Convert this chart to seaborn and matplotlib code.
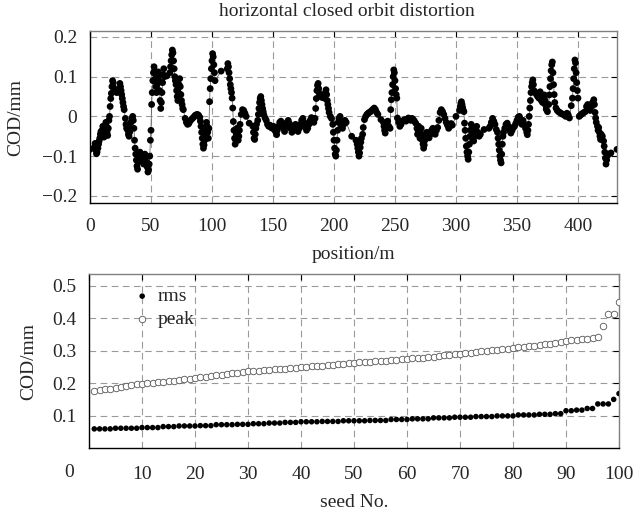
import matplotlib
matplotlib.use("Agg")
import matplotlib.pyplot as plt
import matplotlib.transforms as mtransforms
from matplotlib.ticker import FuncFormatter, FixedLocator
import pandas as pd
import seaborn as sns

# ---------------- data: horizontal closed orbit (position in m, COD in mm)
position = [
    0.0, 3.5, 4.2, 4.8, 5.3, 5.8, 6.5, 7.0, 7.5, 8.0,
    8.5, 9.0, 9.5, 10.0, 10.5, 11.0, 11.5, 12.0, 12.5, 13.0,
    13.5, 14.0, 14.5, 15.0, 15.5, 16.0, 16.5, 17.0, 17.5, 18.0,
    18.5, 19.0, 19.5, 20.0, 21.0, 22.0, 23.0, 24.0, 24.5, 25.0,
    25.5, 26.0, 26.5, 27.0, 27.5, 28.0, 29.0, 29.5, 30.0, 30.5,
    31.0, 31.5, 32.0, 32.5, 33.0, 33.5, 34.5, 35.0, 35.5, 36.0,
    36.5, 37.0, 37.5, 38.0, 38.5, 39.0, 39.5, 40.0, 41.0, 42.0,
    43.0, 43.5, 44.0, 44.5, 45.0, 46.0, 46.5, 47.0, 47.5, 48.0,
    48.5, 49.0, 49.5, 50.0, 50.5, 51.0, 51.5, 52.0, 52.5, 53.0,
    53.5, 54.0, 54.5, 55.0, 55.5, 56.0, 56.5, 57.0, 57.5, 58.0,
    58.5, 59.0, 59.5, 60.0, 60.5, 61.0, 63.0, 65.5, 66.0, 66.5,
    67.0, 67.5, 68.0, 68.5, 69.0, 69.5, 70.0, 70.5, 71.0, 71.5,
    72.0, 72.5, 73.0, 73.5, 74.0, 74.5, 75.0, 75.5, 76.0, 76.5,
    78.0, 79.0, 80.0, 81.0, 82.0, 83.0, 84.0, 85.0, 86.0, 87.0,
    88.0, 89.0, 90.0, 90.5, 91.0, 91.5, 92.0, 92.5, 93.0, 93.5,
    94.0, 94.5, 95.0, 95.5, 96.0, 96.5, 97.0, 97.5, 98.0, 98.5,
    99.0, 99.5, 100.0, 100.5, 101.0, 101.5, 102.0, 102.5, 107.5, 112.5,
    113.0, 113.5, 114.0, 114.5, 115.0, 115.5, 116.0, 116.5, 117.0, 117.5,
    118.0, 118.5, 119.0, 119.5, 120.0, 120.5, 121.0, 121.5, 122.0, 122.5,
    123.0, 124.0, 125.0, 126.0, 127.0, 128.0, 130.5, 133.5, 134.0, 134.5,
    135.0, 135.5, 136.0, 136.5, 137.5, 138.0, 138.5, 139.0, 139.5, 140.0,
    140.5, 141.0, 141.5, 142.0, 142.5, 143.5, 144.5, 145.5, 146.5, 147.5,
    148.5, 149.5, 150.5, 151.5, 152.5, 153.0, 153.5, 154.5, 155.5, 156.5,
    157.5, 158.5, 159.5, 160.5, 161.5, 162.5, 163.5, 164.5, 165.5, 166.5,
    167.5, 168.5, 169.5, 170.5, 171.5, 172.5, 173.5, 174.5, 175.5, 176.5,
    177.5, 178.5, 179.5, 180.5, 181.5, 182.5, 183.5, 184.5, 185.0, 185.5,
    186.0, 186.5, 187.0, 187.5, 188.0, 189.0, 190.0, 191.0, 192.0, 193.0,
    193.5, 194.0, 194.5, 195.0, 195.5, 196.0, 197.0, 198.0, 199.0, 199.5,
    200.0, 200.5, 201.0, 201.5, 202.0, 202.5, 203.0, 203.5, 204.0, 205.0,
    205.5, 206.0, 207.0, 208.0, 209.0, 210.0, 214.5, 218.0, 219.0, 219.5,
    220.0, 220.5, 221.0, 221.5, 222.0, 222.5, 223.5, 224.0, 225.0, 226.0,
    227.0, 228.0, 229.0, 230.0, 231.0, 232.0, 233.0, 234.0, 235.0, 236.0,
    238.5, 240.5, 241.0, 241.5, 242.0, 242.5, 243.0, 244.0, 245.0, 246.0,
    246.5, 247.0, 247.5, 248.0, 248.5, 249.0, 249.5, 250.0, 250.5, 251.0,
    251.5, 252.0, 253.0, 254.0, 255.0, 256.0, 257.0, 258.0, 259.0, 260.0,
    261.0, 262.0, 263.0, 264.0, 265.0, 266.0, 267.0, 268.0, 268.5, 269.0,
    269.5, 270.0, 270.5, 271.0, 271.5, 272.0, 272.5, 273.0, 273.5, 274.0,
    274.5, 275.0, 276.0, 277.0, 278.0, 279.0, 280.0, 281.0, 282.0, 283.0,
    284.0, 285.0, 286.0, 287.0, 288.0, 289.0, 290.0, 291.0, 292.0, 293.0,
    294.0, 295.0, 296.0, 297.0, 300.0, 303.0, 303.5, 304.0, 304.5, 305.0,
    305.5, 306.0, 306.5, 307.0, 307.5, 308.0, 308.5, 309.0, 309.5, 310.0,
    310.5, 311.0, 311.5, 312.0, 312.5, 313.0, 313.5, 314.0, 314.5, 315.0,
    315.5, 316.0, 317.0, 318.0, 319.0, 320.0, 323.0, 327.0, 328.0, 329.0,
    330.0, 331.0, 332.0, 333.0, 334.0, 334.5, 335.0, 335.5, 336.0, 336.5,
    337.0, 337.5, 338.0, 338.5, 339.0, 340.0, 341.0, 342.0, 343.0, 344.0,
    345.0, 346.0, 347.0, 348.0, 349.0, 350.0, 351.0, 352.0, 353.0, 354.0,
    355.0, 356.0, 357.0, 358.0, 358.5, 359.0, 359.5, 360.0, 360.5, 361.0,
    361.5, 362.0, 362.5, 363.0, 363.5, 364.0, 365.0, 366.0, 367.0, 368.0,
    368.5, 369.0, 369.5, 370.0, 371.0, 372.0, 372.5, 373.0, 373.5, 374.0,
    375.0, 376.0, 376.5, 377.0, 377.5, 378.0, 378.5, 379.0, 379.5, 380.0,
    380.5, 381.0, 382.0, 383.0, 384.0, 385.0, 386.0, 387.0, 388.0, 389.0,
    390.0, 391.0, 392.0, 393.0, 394.5, 395.5, 396.0, 396.5, 397.0, 397.5,
    398.0, 398.5, 399.0, 399.5, 400.0, 401.0, 402.0, 403.0, 404.0, 405.0,
    406.0, 407.0, 408.0, 409.0, 410.0, 411.0, 412.0, 413.0, 413.5, 414.0,
    414.5, 415.0, 416.0, 416.5, 417.0, 417.5, 418.0, 418.5, 419.0, 420.0,
    421.0, 421.5, 422.0, 422.5, 423.0, 423.5, 424.0, 425.0, 427.0, 432.0,
]
cod = [
    -0.083, -0.078, -0.068, -0.085, -0.094, -0.090, -0.080, -0.070, -0.062, -0.055,
    -0.045, -0.038, -0.050, -0.035, -0.025, -0.040, -0.052, -0.045, -0.030, -0.015,
    -0.025, -0.040, -0.048, -0.030, -0.010, 0.000, 0.025, 0.045, 0.058, 0.075,
    0.090, 0.085, 0.072, 0.065, 0.062, 0.060, 0.063, 0.068, 0.083, 0.075,
    0.065, 0.055, 0.045, 0.035, 0.025, 0.017, -0.005, -0.020, -0.030, -0.025,
    -0.035, -0.045, -0.050, -0.040, -0.030, -0.015, -0.005, 0.000, -0.010, -0.030,
    -0.060, -0.080, -0.095, -0.110, -0.125, -0.133, -0.115, -0.100, -0.090, -0.095,
    -0.100, -0.110, -0.120, -0.105, -0.095, -0.100, -0.115, -0.128, -0.140, -0.135,
    -0.120, -0.100, -0.060, -0.035, 0.030, 0.060, 0.090, 0.110, 0.125, 0.115,
    0.095, 0.075, 0.060, 0.080, 0.100, 0.112, 0.090, 0.065, 0.040, 0.020,
    0.035, 0.060, 0.085, 0.105, 0.120, 0.100, 0.102, 0.110, 0.125, 0.140,
    0.155, 0.167, 0.160, 0.140, 0.120, 0.100, 0.090, 0.080, 0.065, 0.050,
    0.040, 0.060, 0.080, 0.095, 0.075, 0.055, 0.040, 0.030, 0.020, 0.017,
    -0.005, -0.015, -0.020, -0.018, -0.012, -0.008, -0.005, -0.002, 0.002, 0.004,
    0.005, 0.003, -0.002, -0.012, -0.025, -0.040, -0.055, -0.070, -0.080, -0.072,
    -0.060, -0.045, -0.030, -0.015, -0.025, -0.040, -0.055, -0.030, 0.037, 0.070,
    0.095, 0.120, 0.140, 0.158, 0.150, 0.130, 0.110, 0.090, 0.114, 0.120,
    0.133, 0.125, 0.110, 0.095, 0.080, 0.070, 0.060, 0.046, 0.021, -0.013,
    -0.035, -0.055, -0.070, -0.060, -0.045, -0.030, -0.045, -0.060, -0.050, -0.035,
    -0.020, 0.005, 0.017, 0.015, 0.008, 0.000, -0.017, -0.025, -0.040, -0.055,
    -0.058, -0.045, -0.030, -0.020, -0.010, 0.005, 0.020, 0.035, 0.045, 0.050,
    0.040, 0.030, 0.020, 0.012, 0.004, -0.004, -0.010, -0.020, -0.025, -0.022,
    -0.028, -0.030, -0.025, -0.035, -0.040, -0.046, -0.035, -0.025, -0.015, -0.012,
    -0.020, -0.030, -0.038, -0.028, -0.015, -0.010, -0.018, -0.030, -0.040, -0.035,
    -0.025, -0.020, -0.030, -0.038, -0.030, -0.020, -0.010, -0.005, -0.015, -0.028,
    -0.035, -0.030, -0.020, -0.010, -0.003, -0.008, -0.015, -0.005, 0.020, 0.045,
    0.065, 0.078, 0.083, 0.070, 0.058, 0.050, 0.048, 0.052, 0.046, 0.060,
    0.067, 0.055, 0.040, 0.030, 0.020, 0.010, 0.000, -0.005, -0.020, -0.040,
    -0.060, -0.080, -0.095, -0.100, -0.085, -0.060, -0.035, -0.015, -0.005, 0.000,
    -0.012, -0.025, -0.030, -0.020, -0.010, -0.015, -0.050, -0.060, -0.070, -0.080,
    -0.090, -0.100, -0.092, -0.078, -0.065, -0.055, -0.045, -0.028, -0.008, 0.000,
    0.005, 0.008, 0.010, 0.012, 0.015, 0.018, 0.021, 0.017, 0.010, 0.005,
    -0.008, -0.015, -0.025, -0.035, -0.042, -0.030, -0.020, -0.012, -0.025, -0.030,
    0.017, 0.042, 0.060, 0.080, 0.100, 0.117, 0.110, 0.090, 0.070, 0.055,
    0.046, -0.004, -0.015, -0.025, -0.020, -0.012, -0.010, -0.008, -0.012, -0.008,
    -0.004, -0.006, -0.010, -0.005, -0.008, -0.012, -0.017, -0.030, -0.045, -0.035,
    -0.025, -0.040, -0.055, -0.045, -0.030, -0.045, -0.060, -0.070, -0.080, -0.072,
    -0.060, -0.048, -0.040, -0.050, -0.054, -0.045, -0.035, -0.030, -0.038, -0.045,
    -0.035, -0.028, -0.010, 0.010, 0.017, 0.012, 0.005, -0.005, -0.015, -0.022,
    -0.030, -0.025, -0.018, -0.022, 0.000, 0.015, 0.025, 0.033, 0.037, 0.030,
    0.022, 0.015, 0.012, -0.017, -0.035, -0.055, -0.075, -0.090, -0.100, -0.108,
    -0.090, -0.070, -0.050, -0.035, -0.020, -0.030, -0.045, -0.058, -0.062, -0.050,
    -0.040, -0.030, -0.025, -0.040, -0.050, -0.045, -0.033, -0.030, -0.025, -0.015,
    -0.005, -0.012, -0.020, -0.033, -0.040, -0.055, -0.070, -0.085, -0.100, -0.110,
    -0.117, -0.095, -0.070, -0.050, -0.040, -0.030, -0.020, -0.017, -0.025, -0.035,
    -0.042, -0.035, -0.028, -0.025, -0.018, -0.010, -0.002, 0.000, -0.008, -0.020,
    -0.010, -0.020, -0.030, -0.040, -0.046, -0.035, -0.020, 0.000, 0.021, 0.040,
    0.060, 0.075, 0.085, 0.092, 0.080, 0.065, 0.060, 0.055, 0.050, 0.046,
    0.055, 0.062, 0.050, 0.040, 0.035, 0.045, 0.054, 0.040, 0.028, 0.018,
    0.012, 0.030, 0.054, 0.075, 0.095, 0.115, 0.130, 0.137, 0.110, 0.080,
    0.055, 0.035, 0.021, 0.015, 0.012, 0.010, 0.008, 0.006, 0.005, 0.003,
    0.000, 0.008, 0.004, -0.004, 0.027, 0.046, 0.070, 0.095, 0.120, 0.142,
    0.135, 0.110, 0.085, 0.065, 0.046, 0.000, 0.003, 0.006, 0.008, 0.010,
    0.012, 0.025, 0.030, 0.020, 0.015, 0.025, 0.035, 0.042, 0.030, 0.010,
    -0.004, -0.015, -0.025, -0.035, -0.028, -0.040, -0.050, -0.058, -0.045, -0.050,
    -0.062, -0.075, -0.090, -0.105, -0.120, -0.110, -0.100, -0.095, -0.092, -0.083,
]

# ---------------- data: COD statistics over 100 seeds (sorted)
seed = list(range(1, 101))
rms = [
    0.059, 0.059, 0.059, 0.059, 0.061, 0.061, 0.061, 0.061, 0.061, 0.063,
    0.063, 0.063, 0.063, 0.066, 0.066, 0.066, 0.068, 0.068, 0.068, 0.068,
    0.069, 0.069, 0.069, 0.072, 0.072, 0.072, 0.072, 0.073, 0.073, 0.073,
    0.075, 0.075, 0.075, 0.077, 0.077, 0.077, 0.079, 0.079, 0.079, 0.081,
    0.081, 0.081, 0.081, 0.082, 0.082, 0.082, 0.082, 0.084, 0.084, 0.084,
    0.084, 0.084, 0.085, 0.085, 0.085, 0.085, 0.088, 0.088, 0.088, 0.088,
    0.090, 0.090, 0.090, 0.090, 0.093, 0.093, 0.093, 0.093, 0.095, 0.095,
    0.095, 0.095, 0.097, 0.097, 0.097, 0.097, 0.099, 0.099, 0.099, 0.099,
    0.102, 0.102, 0.102, 0.102, 0.104, 0.104, 0.104, 0.106, 0.106, 0.115,
    0.115, 0.117, 0.117, 0.122, 0.122, 0.136, 0.136, 0.136, 0.150, 0.168,
]
peak = [
    0.177, 0.179, 0.181, 0.183, 0.186, 0.189, 0.191, 0.193, 0.196, 0.199,
    0.200, 0.202, 0.203, 0.205, 0.207, 0.208, 0.210, 0.212, 0.214, 0.216,
    0.218, 0.220, 0.222, 0.224, 0.226, 0.228, 0.230, 0.232, 0.234, 0.237,
    0.238, 0.239, 0.240, 0.242, 0.243, 0.244, 0.245, 0.247, 0.248, 0.250,
    0.251, 0.252, 0.253, 0.254, 0.256, 0.257, 0.258, 0.260, 0.261, 0.263,
    0.264, 0.265, 0.266, 0.267, 0.268, 0.270, 0.271, 0.272, 0.274, 0.276,
    0.277, 0.278, 0.279, 0.280, 0.282, 0.284, 0.286, 0.288, 0.289, 0.291,
    0.293, 0.294, 0.296, 0.298, 0.300, 0.301, 0.303, 0.305, 0.307, 0.309,
    0.311, 0.313, 0.315, 0.316, 0.318, 0.320, 0.322, 0.325, 0.327, 0.331,
    0.332, 0.333, 0.335, 0.337, 0.340, 0.344, 0.376, 0.414, 0.414, 0.451,
]

top_xticks = [0, 50, 100, 150, 200, 250, 300, 350, 400]
top_yticks = [-0.2, -0.1, 0.0, 0.1, 0.2]
bot_xticks = [0, 10, 20, 30, 40, 50, 60, 70, 80, 90, 100]
bot_yticks = [0.1, 0.2, 0.3, 0.4, 0.5]

assert len(position) == len(cod)

# ---------------- style
sns.set_style("white")
plt.rcParams["font.family"] = ["Liberation Serif", "DejaVu Serif"]
plt.rcParams["font.size"] = 14

W, H = 635, 512
fig = plt.figure(figsize=(W / 100, H / 100), dpi=100)
ax1 = fig.add_axes([90 / W, 1 - 203 / H, (617 - 90) / W, (203 - 31) / H])
ax2 = fig.add_axes([89 / W, 1 - 448 / H, (619 - 89) / W, (448 - 274) / H])


def style(ax, xpad, ypad):
    for side, sp in ax.spines.items():
        sp.set_visible(True)
        sp.set_linewidth(1.0)
        sp.set_color("black" if side in ("left", "bottom") else "#808080")
    ax.grid(True, color="#9a9a9a", linestyle=(0, (6, 4)), linewidth=0.8)
    ax.set_axisbelow(True)
    ax.tick_params(axis="both", direction="in", top=True, right=True,
                   length=4, width=0.8, color="black", labelsize=14)
    ax.tick_params(axis="x", pad=xpad)
    ax.tick_params(axis="y", pad=ypad)


def fmt(v, _):
    if abs(v) < 1e-9:
        return "0"
    return f"{v:.1f}".replace("-", "\u2212")


# ---------------- top panel
df1 = pd.DataFrame({"position": position, "cod": cod})
sns.lineplot(data=df1, x="position", y="cod", sort=False, estimator=None,
             color="#666666", linewidth=0.6, ax=ax1)
sns.scatterplot(data=df1, x="position", y="cod", color="black", s=24,
                edgecolor="none", ax=ax1, zorder=3)
ax1.set_xlim(0, 432)
ax1.set_ylim(-0.218, 0.215)
ax1.xaxis.set_major_locator(FixedLocator(top_xticks))
ax1.yaxis.set_major_locator(FixedLocator(top_yticks))
ax1.yaxis.set_major_formatter(FuncFormatter(fmt))
style(ax1, xpad=11, ypad=9)
ax1.set_xlabel("position/m", labelpad=8)
ax1.set_ylabel("COD/mm")
ax1.yaxis.set_label_coords(-0.125, 0.5)

fig.text(347 / W, 1 - 12 / H, "horizontal closed orbit distortion",
         ha="center", va="center", fontsize=14)

# ---------------- bottom panel
df2 = pd.DataFrame({"seed": seed, "rms": rms, "peak": peak})
sns.scatterplot(data=df2, x="seed", y="rms", color="black", s=16,
                edgecolor="none", ax=ax2, label="rms", zorder=3)
sns.scatterplot(data=df2, x="seed", y="peak", facecolor="white",
                edgecolor="#555555", linewidth=0.6, s=22, ax=ax2,
                label="peak", zorder=3)
ax2.set_xlim(0, 100)
ax2.set_ylim(0, 0.537)
ax2.xaxis.set_major_locator(FixedLocator(bot_xticks))
ax2.yaxis.set_major_locator(FixedLocator(bot_yticks))
ax2.xaxis.set_major_formatter(FuncFormatter(lambda v, _: "" if v == 0 else f"{v:g}"))
ax2.yaxis.set_major_formatter(FuncFormatter(fmt))
style(ax2, xpad=13, ypad=9)
ax2.set_xlabel("seed No.", labelpad=8)
ax2.set_ylabel("COD/mm")
ax2.yaxis.set_label_coords(-0.098, 0.5)

zero_tf = ax2.get_xaxis_transform() + mtransforms.ScaledTranslation(-20 / 100, 0, fig.dpi_scale_trans)
ax2.text(0, -0.138, "0", transform=zero_tf, ha="center", va="center", fontsize=14)

leg = ax2.legend(loc="upper left", bbox_to_anchor=(0.06, 1.0), frameon=False,
                 handlelength=0.8, handletextpad=0.4, labelspacing=0.25,
                 borderaxespad=0.3, fontsize=14)

fig.savefig("out.png", dpi=100)
